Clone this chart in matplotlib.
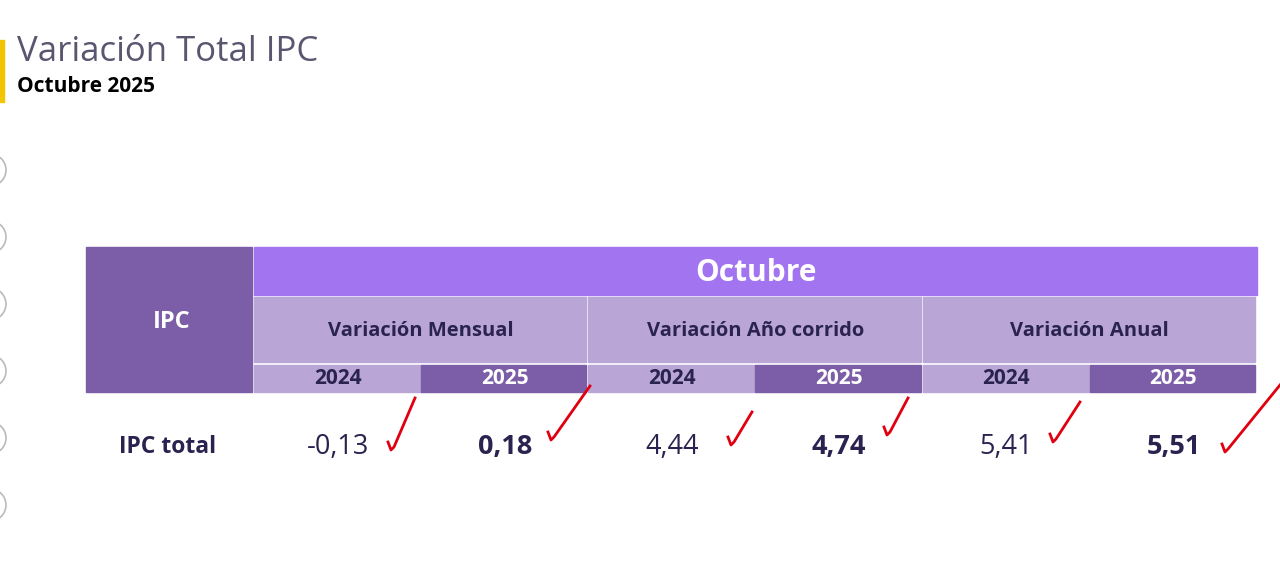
import matplotlib
matplotlib.use("Agg")
import matplotlib.pyplot as plt
from matplotlib.patches import Rectangle, Circle

title = "Variación Total IPC"
subtitle = "Octubre 2025"
month = "Octubre"
groups = ["Variación Mensual", "Variación Año corrido", "Variación Anual"]
years = ["2024", "2025"]
row_label = "IPC total"
values = [-0.13, 0.18, 4.44, 4.74, 5.41, 5.51]

fig = plt.figure(figsize=(12.8, 5.76), dpi=100)
ax = fig.add_axes([0, 0, 1, 1])
ax.set_xlim(0, 1280); ax.set_ylim(576, 0); ax.axis("off")
fig.patch.set_facecolor("white")

ax.add_patch(Rectangle((0, 40), 4, 62, color="#f2c500"))
ax.text(17, 52, title, fontsize=25, color="#5b5670", va="center", family="Open Sans")
ax.text(17, 87, subtitle, fontsize=15, color="black", weight="bold", va="center", family="Open Sans")
for cy in [170, 237, 304, 371, 438, 505]:
    ax.add_patch(Circle((-10, cy), 16, fill=False, ec="#bbbbbb", lw=1.2))

dark = "#7b5ea7"; light = "#b9a6d6"; vio = "#a274f0"; txt = "#2a2350"
ax.add_patch(Rectangle((86, 247), 166, 145, color=dark))
ax.text(172, 322, "IPC", color="white", weight="bold", fontsize=17, ha="center", va="center", family="Open Sans")
ax.add_patch(Rectangle((254, 247), 1003, 48, color=vio))
ax.text(756, 273, month, color="white", weight="bold", fontsize=21.5, ha="center", va="center", family="Open Sans")
gw = 1003 / 3
for i, g in enumerate(groups):
    x0 = 254 + i * gw
    ax.add_patch(Rectangle((x0, 297), gw - 2, 65, color=light))
    ax.text(x0 + gw / 2, 331, g, color=txt, weight="bold", fontsize=14.5, ha="center", va="center", family="Open Sans")
    for j, y in enumerate(years):
        cx0 = x0 + j * gw / 2
        ax.add_patch(Rectangle((cx0, 365), gw / 2 - (2 if j else 0), 27, color=light if j == 0 else dark))
        ax.text(cx0 + gw / 4, 379, y, color=txt if j == 0 else "white", weight="bold",
                fontsize=15, ha="center", va="center", family="Open Sans")
ax.text(168, 447, row_label, color=txt, weight="bold", fontsize=16.5, ha="center", va="center", family="Open Sans")
for k, v in enumerate(values):
    cx = 254 + k * gw / 2 + gw / 4
    s = f"{v:.2f}".replace(".", ",")
    ax.text(cx, 447, s, color=txt, weight="bold" if k % 2 else "normal",
            fontsize=19.5, ha="center", va="center", family="Open Sans")

checks = [(388, 450, 415, 398), (548, 440, 590, 386), (728, 445, 752, 412),
          (884, 435, 908, 398), (1050, 442, 1080, 402), (1222, 452, 1280, 385)]
for x0, y0, x1, y1 in checks:
    ax.plot([x0, x0 + 3, x0 + 6, x1], [y0 - 8, y0, y0 - 3, y1], color="#e00010", lw=2)

fig.savefig("out.png", dpi=100)
